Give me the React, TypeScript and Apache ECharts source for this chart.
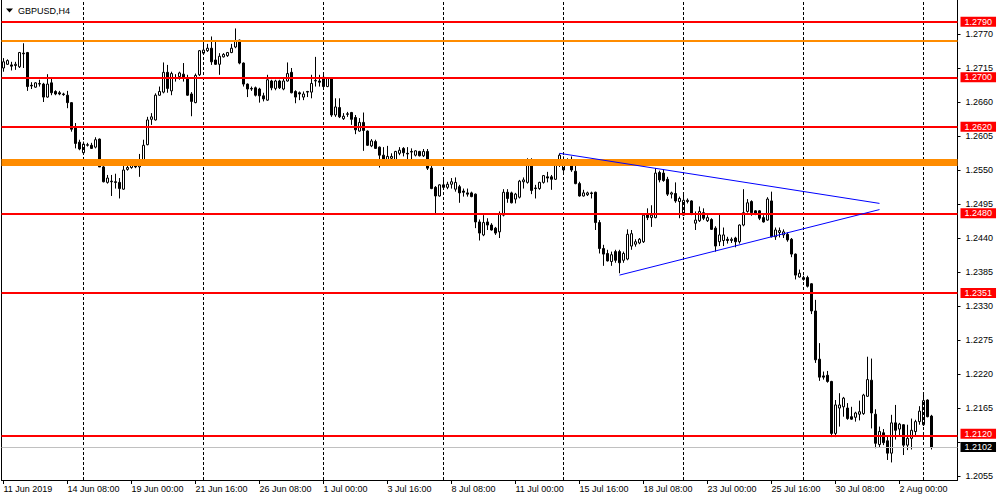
import React, { useEffect, useRef } from "react";
import * as echarts from "echarts";

// ---- data (GBPUSD, H4) ----
const openP = [
  1.2715, 1.2721, 1.2720, 1.2719, 1.2717, 1.2739, 1.2740, 1.2687, 1.2684, 1.2689,
  1.2689, 1.2668, 1.2691, 1.2677, 1.2675, 1.2673, 1.2671, 1.2659, 1.2618, 1.2595,
  1.2578, 1.2590, 1.2590, 1.2587, 1.2600, 1.2555, 1.2530, 1.2532, 1.2531, 1.2530,
  1.2519, 1.2551, 1.2554, 1.2561, 1.2555, 1.2564, 1.2591, 1.2632, 1.2631, 1.2671,
  1.2676, 1.2708, 1.2678, 1.2699, 1.2701, 1.2705, 1.2698, 1.2673, 1.2659, 1.2704,
  1.2739, 1.2743, 1.2747, 1.2728, 1.2721, 1.2733, 1.2735, 1.2740, 1.2749, 1.2760,
  1.2723, 1.2689, 1.2682, 1.2683, 1.2681, 1.2670, 1.2663, 1.2694, 1.2682, 1.2694,
  1.2681, 1.2694, 1.2708, 1.2677, 1.2675, 1.2668, 1.2677, 1.2676, 1.2694, 1.2694,
  1.2700, 1.2685, 1.2698, 1.2639, 1.2651, 1.2633, 1.2640, 1.2643, 1.2635, 1.2613,
  1.2627, 1.2613, 1.2589, 1.2596, 1.2587, 1.2574, 1.2566, 1.2569, 1.2566, 1.2577,
  1.2585, 1.2577, 1.2580, 1.2574, 1.2580, 1.2573, 1.2580, 1.2553, 1.2522, 1.2508,
  1.2526, 1.2522, 1.2527, 1.2519, 1.2523, 1.2516, 1.2513, 1.2513, 1.2511, 1.2466,
  1.2445, 1.2466, 1.2461, 1.2456, 1.2450, 1.2477, 1.2514, 1.2513, 1.2503, 1.2506,
  1.2531, 1.2530, 1.2561, 1.2521, 1.2520, 1.2530, 1.2539, 1.2539, 1.2535, 1.2565,
  1.2550, 1.2566, 1.2563, 1.2548, 1.2528, 1.2508, 1.2510, 1.2513, 1.2514, 1.2465,
  1.2423, 1.2415, 1.2402, 1.2418, 1.2418, 1.2404, 1.2406, 1.2427, 1.2430, 1.2432,
  1.2434, 1.2479, 1.2473, 1.2473, 1.2546, 1.2545, 1.2535, 1.2511, 1.2512, 1.2499,
  1.2477, 1.2499, 1.2500, 1.2464, 1.2468, 1.2481, 1.2468, 1.2470, 1.2456, 1.2434,
  1.2436, 1.2438, 1.2436, 1.2440, 1.2434, 1.2461, 1.2483, 1.2499, 1.2484, 1.2484,
  1.2473, 1.2469, 1.2500, 1.2442, 1.2449, 1.2445, 1.2446, 1.2438, 1.2414, 1.2377,
  1.2373, 1.2376, 1.2366, 1.2322, 1.2244, 1.2217, 1.2218, 1.2208, 1.2124, 1.2165,
  1.2167, 1.2165, 1.2151, 1.2150, 1.2155, 1.2156, 1.2184, 1.2210, 1.2155, 1.2106,
  1.2125, 1.2112, 1.2092, 1.2141, 1.2131, 1.2138, 1.2105, 1.2116, 1.2127, 1.2143,
  1.2138, 1.2178, 1.2152,
];
const closeP = [
  1.2725, 1.2727, 1.2718, 1.2721, 1.2740, 1.2738, 1.2685, 1.2686, 1.2691, 1.2690,
  1.2668, 1.2689, 1.2675, 1.2673, 1.2673, 1.2672, 1.2659, 1.2616, 1.2593, 1.2584,
  1.2592, 1.2591, 1.2585, 1.2599, 1.2555, 1.2531, 1.2537, 1.2531, 1.2530, 1.2520,
  1.2550, 1.2554, 1.2561, 1.2555, 1.2566, 1.2590, 1.2631, 1.2636, 1.2671, 1.2677,
  1.2708, 1.2682, 1.2706, 1.2698, 1.2707, 1.2700, 1.2671, 1.2661, 1.2703, 1.2743,
  1.2744, 1.2747, 1.2725, 1.2721, 1.2734, 1.2737, 1.2740, 1.2747, 1.2758, 1.2723,
  1.2689, 1.2681, 1.2681, 1.2671, 1.2670, 1.2665, 1.2696, 1.2683, 1.2694, 1.2683,
  1.2694, 1.2706, 1.2675, 1.2668, 1.2673, 1.2673, 1.2676, 1.2690, 1.2695, 1.2692,
  1.2685, 1.2698, 1.2639, 1.2652, 1.2636, 1.2637, 1.2641, 1.2632, 1.2615, 1.2627,
  1.2614, 1.2590, 1.2597, 1.2585, 1.2574, 1.2566, 1.2572, 1.2572, 1.2580, 1.2582,
  1.2578, 1.2576, 1.2579, 1.2581, 1.2573, 1.2580, 1.2553, 1.2520, 1.2508, 1.2526,
  1.2522, 1.2527, 1.2531, 1.2530, 1.2513, 1.2514, 1.2511, 1.2507, 1.2466, 1.2448,
  1.2465, 1.2461, 1.2453, 1.2448, 1.2479, 1.2514, 1.2504, 1.2497, 1.2511, 1.2532,
  1.2534, 1.2562, 1.2517, 1.2520, 1.2530, 1.2541, 1.2537, 1.2535, 1.2565, 1.2574,
  1.2566, 1.2567, 1.2550, 1.2528, 1.2508, 1.2513, 1.2513, 1.2512, 1.2465, 1.2423,
  1.2414, 1.2403, 1.2413, 1.2404, 1.2400, 1.2415, 1.2446, 1.2447, 1.2434, 1.2438,
  1.2477, 1.2473, 1.2477, 1.2545, 1.2534, 1.2533, 1.2511, 1.2513, 1.2500, 1.2504,
  1.2501, 1.2501, 1.2479, 1.2469, 1.2483, 1.2472, 1.2473, 1.2454, 1.2427, 1.2445,
  1.2445, 1.2436, 1.2438, 1.2434, 1.2461, 1.2481, 1.2497, 1.2481, 1.2480, 1.2472,
  1.2466, 1.2503, 1.2442, 1.2453, 1.2452, 1.2450, 1.2437, 1.2414, 1.2380, 1.2383,
  1.2376, 1.2362, 1.2322, 1.2243, 1.2215, 1.2215, 1.2208, 1.2124, 1.2170, 1.2170,
  1.2181, 1.2148, 1.2147, 1.2157, 1.2159, 1.2186, 1.2211, 1.2157, 1.2108, 1.2127,
  1.2109, 1.2092, 1.2141, 1.2129, 1.2139, 1.2105, 1.2116, 1.2129, 1.2143, 1.2160,
  1.2177, 1.2151, 1.2102,
];
const lowP = [
  1.2709, 1.2720, 1.2711, 1.2712, 1.2715, 1.2715, 1.2678, 1.2681, 1.2683, 1.2685,
  1.2660, 1.2667, 1.2671, 1.2671, 1.2671, 1.2670, 1.2650, 1.2612, 1.2585, 1.2582,
  1.2577, 1.2588, 1.2584, 1.2585, 1.2555, 1.2530, 1.2528, 1.2508, 1.2520, 1.2504,
  1.2518, 1.2549, 1.2552, 1.2553, 1.2539, 1.2563, 1.2590, 1.2623, 1.2630, 1.2670,
  1.2674, 1.2675, 1.2671, 1.2693, 1.2696, 1.2693, 1.2670, 1.2637, 1.2658, 1.2702,
  1.2738, 1.2741, 1.2720, 1.2720, 1.2704, 1.2732, 1.2733, 1.2739, 1.2747, 1.2721,
  1.2685, 1.2668, 1.2678, 1.2669, 1.2659, 1.2661, 1.2662, 1.2679, 1.2679, 1.2681,
  1.2679, 1.2693, 1.2674, 1.2658, 1.2663, 1.2663, 1.2668, 1.2666, 1.2685, 1.2685,
  1.2684, 1.2684, 1.2636, 1.2636, 1.2634, 1.2631, 1.2636, 1.2623, 1.2608, 1.2612,
  1.2581, 1.2589, 1.2587, 1.2584, 1.2554, 1.2563, 1.2557, 1.2567, 1.2563, 1.2574,
  1.2572, 1.2565, 1.2566, 1.2572, 1.2572, 1.2571, 1.2550, 1.2519, 1.2479, 1.2507,
  1.2520, 1.2519, 1.2520, 1.2515, 1.2497, 1.2507, 1.2507, 1.2506, 1.2456, 1.2436,
  1.2443, 1.2453, 1.2452, 1.2445, 1.2440, 1.2475, 1.2497, 1.2496, 1.2496, 1.2504,
  1.2520, 1.2528, 1.2511, 1.2504, 1.2518, 1.2528, 1.2530, 1.2518, 1.2534, 1.2555,
  1.2547, 1.2561, 1.2547, 1.2527, 1.2507, 1.2507, 1.2508, 1.2504, 1.2453, 1.2415,
  1.2395, 1.2402, 1.2395, 1.2400, 1.2383, 1.2400, 1.2404, 1.2421, 1.2426, 1.2430,
  1.2432, 1.2469, 1.2458, 1.2472, 1.2530, 1.2531, 1.2508, 1.2504, 1.2497, 1.2472,
  1.2476, 1.2496, 1.2477, 1.2453, 1.2466, 1.2469, 1.2466, 1.2453, 1.2418, 1.2427,
  1.2427, 1.2431, 1.2432, 1.2425, 1.2431, 1.2459, 1.2481, 1.2476, 1.2477, 1.2469,
  1.2465, 1.2468, 1.2441, 1.2437, 1.2441, 1.2440, 1.2434, 1.2409, 1.2373, 1.2376,
  1.2371, 1.2360, 1.2317, 1.2238, 1.2209, 1.2211, 1.2206, 1.2118, 1.2118, 1.2135,
  1.2151, 1.2146, 1.2146, 1.2143, 1.2145, 1.2154, 1.2183, 1.2132, 1.2100, 1.2102,
  1.2105, 1.2081, 1.2077, 1.2114, 1.2121, 1.2089, 1.2097, 1.2098, 1.2119, 1.2138,
  1.2136, 1.2150, 1.2098,
];
const highP = [
  1.2731, 1.2729, 1.2725, 1.2725, 1.2741, 1.2755, 1.2741, 1.2692, 1.2692, 1.2696,
  1.2691, 1.2705, 1.2698, 1.2679, 1.2678, 1.2675, 1.2678, 1.2660, 1.2626, 1.2599,
  1.2596, 1.2594, 1.2594, 1.2603, 1.2601, 1.2557, 1.2542, 1.2542, 1.2544, 1.2537,
  1.2557, 1.2558, 1.2563, 1.2563, 1.2576, 1.2599, 1.2636, 1.2642, 1.2674, 1.2685,
  1.2724, 1.2720, 1.2709, 1.2705, 1.2709, 1.2723, 1.2704, 1.2676, 1.2706, 1.2744,
  1.2754, 1.2754, 1.2766, 1.2758, 1.2739, 1.2739, 1.2741, 1.2754, 1.2779, 1.2761,
  1.2724, 1.2690, 1.2685, 1.2685, 1.2683, 1.2675, 1.2704, 1.2696, 1.2696, 1.2696,
  1.2698, 1.2724, 1.2715, 1.2679, 1.2677, 1.2677, 1.2678, 1.2704, 1.2733, 1.2704,
  1.2704, 1.2700, 1.2700, 1.2666, 1.2666, 1.2642, 1.2644, 1.2644, 1.2639, 1.2634,
  1.2643, 1.2614, 1.2600, 1.2599, 1.2588, 1.2587, 1.2589, 1.2577, 1.2581, 1.2587,
  1.2587, 1.2587, 1.2585, 1.2582, 1.2581, 1.2584, 1.2584, 1.2560, 1.2524, 1.2527,
  1.2534, 1.2531, 1.2537, 1.2538, 1.2526, 1.2520, 1.2520, 1.2515, 1.2512, 1.2470,
  1.2477, 1.2472, 1.2464, 1.2458, 1.2483, 1.2519, 1.2519, 1.2515, 1.2513, 1.2534,
  1.2538, 1.2569, 1.2569, 1.2526, 1.2531, 1.2542, 1.2547, 1.2542, 1.2566, 1.2577,
  1.2572, 1.2569, 1.2572, 1.2563, 1.2531, 1.2518, 1.2515, 1.2515, 1.2515, 1.2469,
  1.2429, 1.2421, 1.2418, 1.2421, 1.2421, 1.2418, 1.2454, 1.2453, 1.2438, 1.2440,
  1.2479, 1.2488, 1.2493, 1.2553, 1.2549, 1.2551, 1.2539, 1.2515, 1.2530, 1.2507,
  1.2512, 1.2504, 1.2501, 1.2483, 1.2491, 1.2488, 1.2477, 1.2472, 1.2459, 1.2480,
  1.2457, 1.2442, 1.2441, 1.2442, 1.2462, 1.2519, 1.2503, 1.2501, 1.2485, 1.2485,
  1.2477, 1.2506, 1.2515, 1.2457, 1.2457, 1.2454, 1.2449, 1.2440, 1.2415, 1.2389,
  1.2379, 1.2379, 1.2367, 1.2340, 1.2270, 1.2224, 1.2225, 1.2209, 1.2178, 1.2189,
  1.2183, 1.2173, 1.2167, 1.2159, 1.2177, 1.2188, 1.2248, 1.2245, 1.2163, 1.2135,
  1.2131, 1.2121, 1.2154, 1.2170, 1.2141, 1.2139, 1.2138, 1.2148, 1.2146, 1.2168,
  1.2190, 1.2179, 1.2154,
];

const xTickLabels = [
  "11 Jun 2019", "14 Jun 08:00", "19 Jun 00:00", "21 Jun 16:00", "26 Jun 08:00",
  "1 Jul 00:00", "3 Jul 16:00", "8 Jul 08:00", "11 Jul 00:00", "15 Jul 16:00",
  "18 Jul 08:00", "23 Jul 00:00", "25 Jul 16:00", "30 Jul 08:00", "2 Aug 00:00",
];
// price-scale ticks; 1.2110 sits fully under the price boxes, so it carries no label
const yTickValues = [
  1.2055, 1.211, 1.2165, 1.222, 1.2275, 1.233, 1.2385, 1.244, 1.2495, 1.255,
  1.2605, 1.266, 1.2715, 1.277,
];
const yLabelValues = [
  1.2055, 1.2165, 1.222, 1.2275, 1.233, 1.2385, 1.244, 1.2495, 1.255,
  1.2605, 1.266, 1.2715, 1.277,
];
const redLevels = [1.279, 1.27, 1.262, 1.248, 1.2351, 1.212];
const orangeLevel = 1.2759;
const orangeZone = 1.25625;
const lastPrice = 1.2102;
const upperTrend = [[139, 1.2577], [219, 1.2496]];
const lowerTrend = [[154, 1.238], [219, 1.2486]];
const weekStartIdx = [20, 50, 80, 110, 140, 170, 200, 230];

const SLOTS = 239;
const FONT = "Liberation Sans";
const MONTHS = ["Jan", "Feb", "Mar", "Apr", "May", "Jun", "Jul", "Aug", "Sep", "Oct", "Nov", "Dec"];

function buildCategories(n: number): string[] {
  const out: string[] = [];
  let t = Date.UTC(2019, 5, 11, 16);
  while (out.length < n) {
    const d = new Date(t);
    const wd = d.getUTCDay();
    if (wd !== 0 && wd !== 6) {
      const hh = String(d.getUTCHours()).padStart(2, "0");
      out.push(`${d.getUTCDate()} ${MONTHS[d.getUTCMonth()]} ${hh}:00`);
    }
    t += 4 * 3600 * 1000;
  }
  return out;
}

export default function App() {
  const ref = useRef<HTMLDivElement>(null);

  useEffect(() => {
    if (!ref.current) return;
    const chart = echarts.init(ref.current, undefined, { renderer: "svg" });
    const categories = buildCategories(SLOTS);
    const candles = openP.map((o, i) => [o, closeP[i], lowP[i], highP[i]]);

    const boxLabel = (text: string, bg: string, dy: number) => ({
      show: true,
      position: "end",
      formatter: text,
      color: "#ffffff",
      backgroundColor: bg,
      padding: [1, 4, 0, 4],
      fontSize: 9,
      lineHeight: 9,
      fontFamily: FONT,
      distance: 3,
      offset: [0, dy],
    });

    const levelData: any[] = [
      {
        yAxis: orangeLevel,
        lineStyle: { color: "#FF8C00", width: 2, type: "solid" },
        label: { show: false },
      },
      {
        yAxis: orangeZone,
        lineStyle: { color: "#FF8C00", width: 7, type: "solid" },
        label: { show: false },
      },
      {
        yAxis: lastPrice,
        lineStyle: { color: "#C0C0C0", width: 1, type: "solid" },
        label: boxLabel(lastPrice.toFixed(4), "#000000", 0),
      },
      ...redLevels.map((v) => ({
        yAxis: v,
        lineStyle: { color: "#FF0000", width: 2, type: "solid" },
        label: boxLabel(v.toFixed(4), "#FF0000", v === 1.212 ? -2 : 0),
      })),
      [
        { coord: upperTrend[0], lineStyle: { color: "#0000FF", width: 1, type: "solid" }, label: { show: false } },
        { coord: upperTrend[1] },
      ],
      [
        { coord: lowerTrend[0], lineStyle: { color: "#0000FF", width: 1, type: "solid" }, label: { show: false } },
        { coord: lowerTrend[1] },
      ],
    ];

    chart.setOption({
      animation: false,
      backgroundColor: "#ffffff",
      grid: { left: 1.5, top: 0, width: 956, height: 480, containLabel: false },
      xAxis: {
        type: "category",
        data: categories,
        boundaryGap: true,
        axisLine: { show: true, onZero: false, lineStyle: { color: "#000", width: 1 } },
        axisTick: {
          show: true,
          alignWithLabel: true,
          length: 4,
          interval: (i: number) => i % 16 === 0,
          lineStyle: { color: "#000" },
        },
        axisLabel: {
          interval: (i: number) => i % 16 === 0,
          formatter: (_v: string, i: number) => xTickLabels[i / 16] ?? "",
          align: "left",
          margin: 4,
          fontSize: 9,
          fontFamily: FONT,
          color: "#000",
        },
        splitLine: { show: false },
      },
      yAxis: [
        {
          type: "value",
          position: "right",
          min: 1.20486,
          max: 1.2825,
          scale: true,
          splitLine: { show: false },
          axisLine: { show: true, lineStyle: { color: "#000", width: 1 } },
          axisTick: { show: true, length: 3, customValues: yTickValues, lineStyle: { color: "#000" } },
          axisLabel: {
            customValues: yLabelValues,
            formatter: (v: number) => v.toFixed(4),
            color: "#000",
            fontSize: 9,
            fontFamily: FONT,
            margin: 8,
          },
        },
        {
          type: "value",
          position: "left",
          min: 1.20486,
          max: 1.2825,
          scale: true,
          splitLine: { show: false },
          axisLine: { show: true, onZero: false, lineStyle: { color: "#000", width: 1 } },
          axisTick: { show: false },
          axisLabel: { show: false },
        },
      ],
      graphic: [
        {
          type: "polygon",
          shape: { points: [[6, 8.5], [13, 8.5], [9.5, 12.5]] },
          style: { fill: "#000" },
        },
        {
          type: "text",
          x: 18,
          y: 10.5,
          style: {
            text: "GBPUSD,H4",
            fill: "#000",
            font: `9px "${FONT}"`,
            verticalAlign: "middle",
            align: "left",
          },
        },
      ],
      series: [
        {
          type: "line",
          data: [],
          z: 1,
          silent: true,
          markLine: {
            silent: true,
            symbol: ["none", "none"],
            label: { show: false },
            emphasis: { disabled: true },
            lineStyle: { color: "#000", width: 1, type: [3, 2] },
            data: weekStartIdx.map((i) => ({ xAxis: i })),
          },
        },
        {
          type: "candlestick",
          data: candles,
          z: 2,
          barWidth: 2,
          silent: true,
          itemStyle: {
            color: "#ffffff",
            color0: "#000000",
            borderColor: "#000000",
            borderColor0: "#000000",
            borderColorDoji: "#000000",
            borderWidth: 1,
          },
        },
        {
          type: "line",
          data: [],
          z: 3,
          silent: true,
          markLine: {
            silent: true,
            symbol: ["none", "none"],
            precision: 4,
            emphasis: { disabled: true },
            data: levelData,
          },
        },
      ],
    });

    return () => chart.dispose();
  }, []);

  return (
    <div
      ref={ref}
      style={{ position: "absolute", left: 0, top: 0, width: 1000, height: 500, background: "#fff" }}
    />
  );
}
